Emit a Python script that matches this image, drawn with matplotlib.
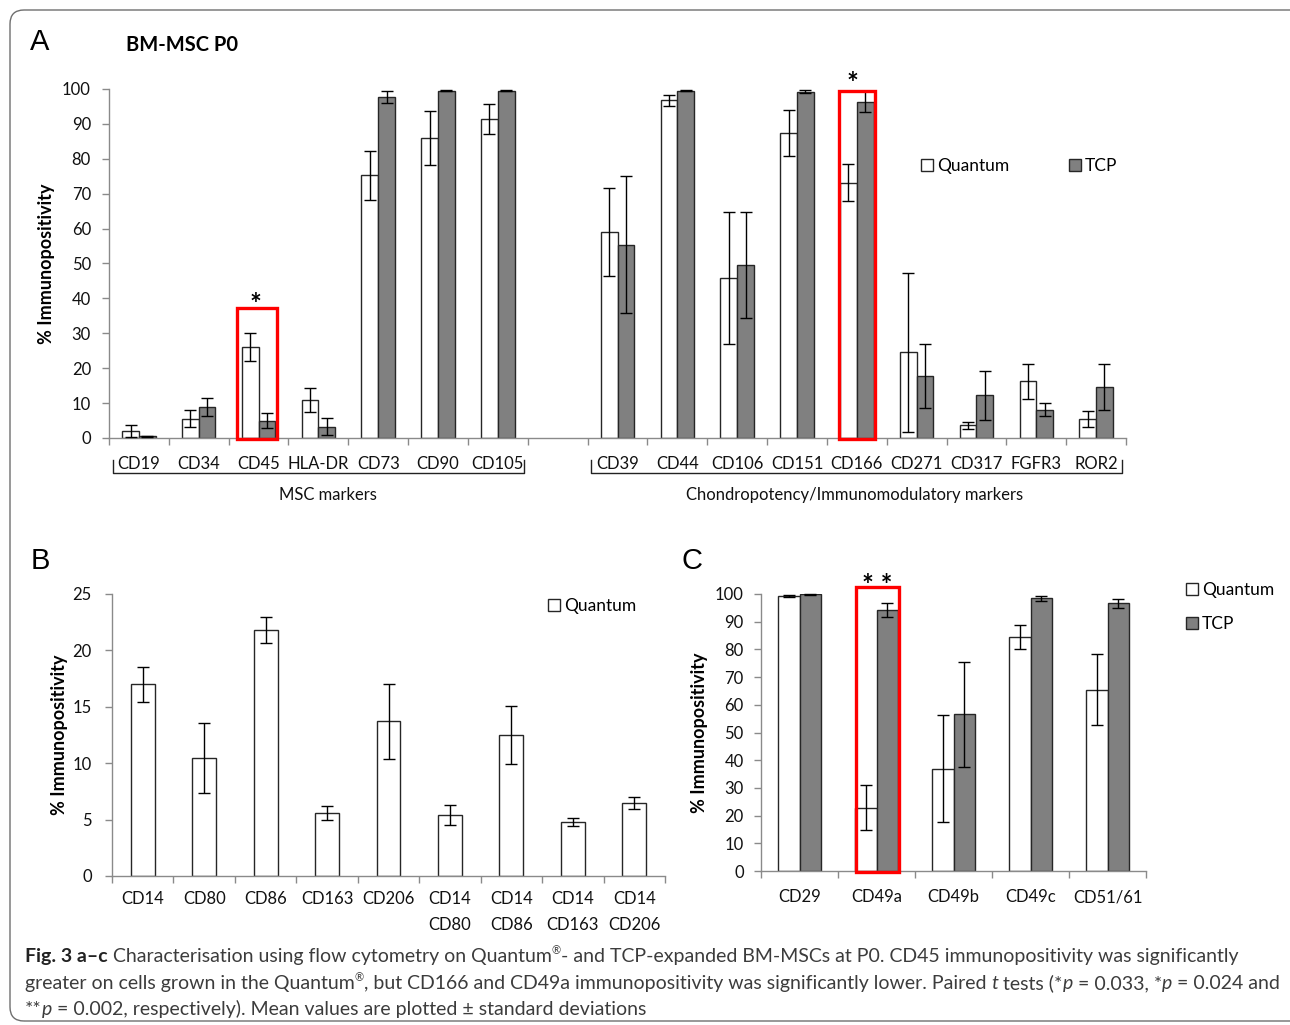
import matplotlib
matplotlib.use('Agg')
import matplotlib.pyplot as plt
from matplotlib.patches import Patch, Rectangle, FancyBboxPatch
from matplotlib.transforms import blended_transform_factory, IdentityTransform
import numpy as np

W, H = 1290, 1025

# panel A: MSC markers
msc_markers = ['CD19', 'CD34', 'CD45', 'HLA-DR', 'CD73', 'CD90', 'CD105']
msc_quantum = [2.0, 5.5, 26.1, 10.9, 75.3, 86.0, 91.4]
msc_quantum_sd = [1.6, 2.4, 4.1, 3.5, 7.0, 7.7, 4.4]
msc_tcp = [0.5, 8.9, 5.0, 3.2, 97.7, 99.5, 99.5]
msc_tcp_sd = [0.2, 2.7, 2.1, 2.4, 1.6, 0.2, 0.2]

# panel A: chondropotency / immunomodulatory markers
chon_markers = ['CD39', 'CD44', 'CD106', 'CD151', 'CD166', 'CD271', 'CD317', 'FGFR3', 'ROR2']
chon_quantum = [59.1, 96.8, 45.8, 87.4, 73.2, 24.5, 3.7, 16.2, 5.4]
chon_quantum_sd = [12.6, 1.6, 19.0, 6.5, 5.2, 22.7, 1.0, 5.1, 2.3]
chon_tcp = [55.4, 99.5, 49.6, 99.2, 96.4, 17.7, 12.2, 8.1, 14.6]
chon_tcp_sd = [19.7, 0.2, 15.2, 0.4, 3.0, 9.2, 7.1, 1.8, 6.5]

# panel B: macrophage markers, Quantum only
b_markers = ['CD14', 'CD80', 'CD86', 'CD163', 'CD206',
             'CD14\nCD80', 'CD14\nCD86', 'CD14\nCD163', 'CD14\nCD206']
b_quantum = [17.0, 10.5, 21.8, 5.6, 13.7, 5.4, 12.5, 4.8, 6.5]
b_quantum_sd = [1.55, 3.1, 1.15, 0.65, 3.35, 0.87, 2.55, 0.36, 0.53]

# panel C: integrins
c_markers = ['CD29', 'CD49a', 'CD49b', 'CD49c', 'CD51/61']
c_quantum = [99.4, 22.9, 36.9, 84.5, 65.5]
c_quantum_sd = [0.4, 8.2, 19.3, 4.3, 12.8]
c_tcp = [99.9, 94.2, 56.5, 98.4, 96.6]
c_tcp_sd = [0.1, 2.6, 18.9, 0.9, 1.7]

plt.rcParams['font.family'] = ['Lato', 'DejaVu Sans']

AXIS_GREY = '#8a8a8a'
EDGE = '#262626'
TCP_GREY = '#808080'
RED = '#ff0000'

fig = plt.figure(figsize=(W / 100, H / 100), dpi=100)


def px_axes(x0, ytop, x1, ybot):
    return fig.add_axes([x0 / W, 1 - ybot / H, (x1 - x0) / W, (ybot - ytop) / H])


def style_axes(ax, n, ylim, yticks, ypad):
    ax.set_xlim(-0.5, n - 0.5)
    ax.set_ylim(*ylim)
    ax.set_yticks(yticks)
    for s in ['top', 'right']:
        ax.spines[s].set_visible(False)
    for s in ['left', 'bottom']:
        ax.spines[s].set_color(AXIS_GREY)
        ax.spines[s].set_linewidth(1.0)
    ax.tick_params(axis='y', direction='out', length=5, width=1, color=AXIS_GREY,
                   labelsize=12, pad=ypad, labelcolor='#111111')
    ax.set_xticks(np.arange(-0.5, n, 1.0), minor=True)
    ax.tick_params(axis='x', which='minor', direction='out', length=5, width=1, color=AXIS_GREY)
    ax.tick_params(axis='x', which='major', length=0, labelsize=12, labelcolor='#111111')
    ax.patch.set_alpha(0)


def pair_bars(ax, x, q, qsd, t, tsd, width):
    ax.bar(x - width / 2, q, width, color='white', edgecolor=EDGE, linewidth=1, zorder=2)
    ax.bar(x + width / 2, t, width, color=TCP_GREY, edgecolor=EDGE, linewidth=1, zorder=2)
    ax.errorbar(x - width / 2, q, yerr=qsd, fmt='none', ecolor='black', elinewidth=1,
                capsize=4, capthick=1, zorder=3, clip_on=False)
    ax.errorbar(x + width / 2, t, yerr=tsd, fmt='none', ecolor='black', elinewidth=1,
                capsize=4, capthick=1, zorder=3, clip_on=False)


def red_box(ax, xc, left, right, top):
    r = Rectangle((xc + left, -0.3), right - left, top + 0.3, fill=False, edgecolor=RED,
                  linewidth=2.4, zorder=5, clip_on=False)
    ax.add_patch(r)


def legend_at(handles, labels, x, y, ncol=1, colsp=2.0, rowsp=0.5):
    fig.legend(handles, labels, loc='center left', bbox_to_anchor=(x / W, 1 - y / H),
               bbox_transform=fig.transFigure, frameon=False, ncol=ncol, fontsize=12.5,
               handlelength=0.7, handleheight=0.7, handletextpad=0.22,
               columnspacing=colsp, labelspacing=rowsp, borderpad=0, borderaxespad=0)


q_handle = Patch(facecolor='white', edgecolor=EDGE, linewidth=1)
t_handle = Patch(facecolor=TCP_GREY, edgecolor=EDGE, linewidth=1)

# ---------------- panel A ----------------
axA = px_axes(109, 89, 1126, 438)
nA = len(msc_markers) + 1 + len(chon_markers)
style_axes(axA, nA, (0, 100), np.arange(0, 101, 10), 8.0)
xm = np.arange(len(msc_markers))
xc = np.arange(len(chon_markers)) + len(msc_markers) + 1
pair_bars(axA, xm, msc_quantum, msc_quantum_sd, msc_tcp, msc_tcp_sd, 0.28)
pair_bars(axA, xc, chon_quantum, chon_quantum_sd, chon_tcp, chon_tcp_sd, 0.28)
axA.set_xticks(list(xm) + list(xc))
axA.set_xticklabels(msc_markers + chon_markers)
axA.tick_params(axis='x', which='major', pad=13)
axA.set_ylabel('% Immunopositivity', fontsize=13, fontweight='bold', labelpad=5)

i45 = msc_markers.index('CD45')
i166 = len(msc_markers) + 1 + chon_markers.index('CD166')
red_box(axA, xm[i45], -0.355, 0.30, 37.3)
red_box(axA, i166, -0.30, 0.30, 99.4)
axA.text(xm[i45] - 0.05, 38.2, '*', ha='center', va='center', fontsize=20, fontweight='bold')
axA.text(i166 - 0.07, 101.5, '*', ha='center', va='center', fontsize=20, fontweight='bold')

# group brackets
tb = blended_transform_factory(axA.transData, fig.transFigure)
for first, last, label, lx in [(xm[0], xm[-1], 'MSC markers', 3.16),
                               (xc[0], xc[-1], 'Chondropotency/Immunomodulatory markers', 11.96)]:
    x0, x1 = first - 0.44, last + 0.44
    ys = [1 - 460 / H, 1 - 473 / H, 1 - 473 / H, 1 - 460 / H]
    axA.plot([x0, x0, x1, x1], ys, color='#222222', lw=1, transform=tb, clip_on=False)
    axA.text(lx, 1 - 495 / H, label, transform=tb, ha='center', va='center', fontsize=12,
             color='#111111')

legend_at([q_handle, t_handle], ['Quantum', 'TCP'], 921, 166, ncol=2, colsp=3.45)

# ---------------- panel B ----------------
axB = px_axes(112, 594, 665, 876)
style_axes(axB, len(b_markers), (0, 25), np.arange(0, 26, 5), 9.5)
xb = np.arange(len(b_markers))
axB.bar(xb, b_quantum, 0.39, color='white', edgecolor=EDGE, linewidth=1, zorder=2)
axB.errorbar(xb, b_quantum, yerr=b_quantum_sd, fmt='none', ecolor='black', elinewidth=1,
             capsize=4, capthick=1, zorder=3)
axB.set_xticks(xb)
axB.set_xticklabels(b_markers, linespacing=1.75, va='top')
axB.tick_params(axis='x', which='major', pad=11)
axB.set_ylabel('% Immunopositivity', fontsize=13, fontweight='bold', labelpad=3)
legend_at([q_handle], ['Quantum'], 548, 606)

# ---------------- panel C ----------------
axC = px_axes(761, 594, 1146, 871)
style_axes(axC, len(c_markers), (0, 100), np.arange(0, 101, 10), 7.5)
xcc = np.arange(len(c_markers))
pair_bars(axC, xcc, c_quantum, c_quantum_sd, c_tcp, c_tcp_sd, 0.28)
axC.set_xticks(xcc)
axC.set_xticklabels(c_markers)
axC.tick_params(axis='x', which='major', pad=13)
axC.set_ylabel('% Immunopositivity', fontsize=13, fontweight='bold', labelpad=5)
i49a = c_markers.index('CD49a')
red_box(axC, xcc[i49a], -0.265, 0.29, 102.5)
axC.text(xcc[i49a] + 0.01, 103.0, '* *', ha='center', va='center', fontsize=20,
         fontweight='bold')
legend_at([q_handle, t_handle], ['Quantum', 'TCP'], 1186, 607, rowsp=1.0)

# ---------------- panel letters / title ----------------
for letter, x, y in [('A', 40, 42), ('B', 40, 561), ('C', 692, 561)]:
    fig.text(x / W, 1 - y / H, letter, ha='center', va='center', fontsize=21,
             family=['Liberation Sans', 'DejaVu Sans'])
fig.text(126 / W, 1 - 45 / H, 'BM-MSC P0', ha='left', va='center', fontsize=14.5,
         fontweight='bold')

# ---------------- caption ----------------
CAP = '#3c3c3c'
cap_lines = [
    (962, [('Fig. 3 a\u2013c', 'bold', 'normal', '#222222'),
           (' Characterisation using flow cytometry on Quantum', 'normal', 'normal', CAP),
           ('\u00ae', 'sup', 'normal', CAP),
           ('- and TCP-expanded BM-MSCs at P0. CD45 immunopositivity was significantly',
            'normal', 'normal', CAP)]),
    (989, [('greater on cells grown in the Quantum', 'normal', 'normal', CAP),
           ('\u00ae', 'sup', 'normal', CAP),
           (', but CD166 and CD49a immunopositivity was significantly lower. Paired ',
            'normal', 'normal', CAP),
           ('t', 'normal', 'italic', CAP), (' tests (*', 'normal', 'normal', CAP),
           ('p', 'normal', 'italic', CAP), (' = 0.033, *', 'normal', 'normal', CAP),
           ('p', 'normal', 'italic', CAP), (' = 0.024 and', 'normal', 'normal', CAP)]),
    (1015, [('**', 'normal', 'normal', CAP), ('p', 'normal', 'italic', CAP),
            (' = 0.002, respectively). Mean values are plotted \u00b1 standard deviations',
             'normal', 'normal', CAP)]),
]
renderer = fig.canvas.get_renderer()
for y, runs in cap_lines:
    x = 25
    for text, weight, style, col in runs:
        size, yy = 14.0, y
        if weight == 'sup':
            size, yy, weight = 8, y - 8, 'normal'
        t = fig.text(x / W, 1 - yy / H, text, ha='left', va='baseline', fontsize=size,
                     fontweight=weight, fontstyle=style, color=col)
        x += t.get_window_extent(renderer).width

# outer frame
frame = FancyBboxPatch((10, 4), 1300, 1011, boxstyle='round,pad=0,rounding_size=14',
                       transform=IdentityTransform(), fill=False, edgecolor='#6e6e6e',
                       linewidth=1.0)
fig.patches.append(frame)

fig.savefig('out.png', dpi=100)
